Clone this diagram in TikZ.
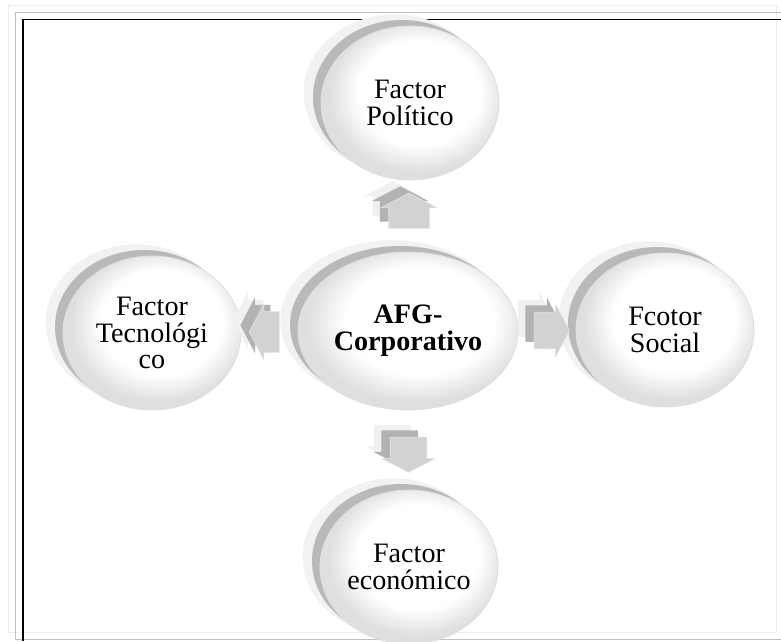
\documentclass[tikz,border=0pt]{standalone}
\usepackage{fontspec}
\setmainfont{Liberation Serif}
\usepackage{tikz}
\usetikzlibrary{shapes.geometric,shapes.arrows,shadows,calc}
\pgfdeclareradialshading{lente}{\pgfpoint{4bp}{5bp}}{color(0bp)=(white); color(17bp)=(white); color(25bp)=(gray!25); color(50bp)=(gray!25)}

\tikzset{
factor/.style={ellipse, minimum width=4.45cm, minimum height=3.85cm, inner sep=0pt, align=center,
  shade, shading=lente, draw=gray!25, line width=0.6pt, font=\fontsize{20}{19}\selectfont,
  general shadow={fill=gray!10, shadow xshift=-0.38cm, shadow yshift=0.25cm, shadow scale=1.02},
  general shadow={fill=gray!55, shadow xshift=-0.2cm, shadow yshift=0.15cm}},
flecha/.style={single arrow, minimum height=0.88cm, inner sep=0pt,
  single arrow head extend=0.2cm, single arrow tip angle=125, fill=gray!35, draw=gray!22,
  general shadow={fill=gray!12, shadow xshift=-0.4cm, shadow yshift=0.3cm},
  general shadow={fill=gray!60, shadow xshift=-0.22cm, shadow yshift=0.17cm}}
}

\begin{document}
\begin{tikzpicture}
\useasboundingbox (0,0) rectangle (19.525,16.025);
\draw[gray!15, line width=0.6pt] (0.2,0.225) rectangle (19.4,15.9);
\draw[gray!50, line width=0.6pt] (19.525,15.71) -- (0.39,15.71) -- (0.39,0.05) -- (19.525,0.05);
\draw[black, line width=1pt] (19.525,15.53) -- (0.575,15.53) -- (0.575,0);

\node[factor] (politico) at (10.25,13.45) {Factor\\Político};
\node[factor, minimum width=5.5cm, minimum height=3.95cm, font=\bfseries\fontsize{20}{19}\selectfont] (afg) at (10.2,7.75) {AFG-\\Corporativo};
\node[factor] (tecnologico) at (3.8,7.7) {Factor\\Tecnológi\\co};
\node[factor] (social) at (16.625,7.775) {Fcotor\\Social};
\node[factor] (economico) at (10.225,1.85) {Factor\\económico};

\node[flecha, shape border rotate=90, inner xsep=0.5cm] (fpolitico) at ($(afg.north)!0.5!(politico.south)$) {};
\node[flecha, shape border rotate=270, inner xsep=0.45cm] (feconomico) at ($(afg.south)!0.5!(economico.north)$) {};
\node[flecha, shape border rotate=180, inner ysep=0.5cm, minimum height=0.75cm] (ftecnologico) at ($(afg.west)!0.5!(tecnologico.east)$) {};
\node[flecha, inner ysep=0.45cm] (fsocial) at ($(afg.east)!0.5!(social.west)$) {};
\end{tikzpicture}
\end{document}
